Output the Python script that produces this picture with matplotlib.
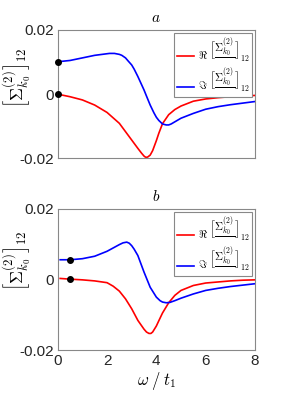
import matplotlib
matplotlib.use("Agg")
import matplotlib.pyplot as plt

plt.rcParams['font.family'] = ['Liberation Sans', 'DejaVu Sans']
plt.rcParams['mathtext.fontset'] = 'cm'

# Panel a
xa_im = [0, 0.5, 1, 1.5, 2, 2.1, 2.3, 2.5, 2.6, 2.75, 2.85, 3, 3.1, 3.25, 3.5, 3.6, 3.75, 3.9, 4, 4.1, 4.25,
         4.4, 4.5, 4.6, 4.8, 5, 5.5, 6, 6.5, 7, 7.5, 8]
ya_im = [0.0101, 0.0105, 0.0113, 0.0121, 0.0126, 0.0127, 0.0127, 0.0124, 0.0121, 0.0113, 0.0104, 0.0091,
         0.0078, 0.0055, 0.0013, -0.0006, -0.0034, -0.0058, -0.0072, -0.0082, -0.0093, -0.0096, -0.0096,
         -0.0093, -0.0084, -0.0075, -0.0060, -0.0047, -0.0039, -0.0033, -0.0028, -0.0023]
xa_re = [0, 0.5, 1, 1.5, 2, 2.5, 2.75, 3, 3.25, 3.4, 3.5, 3.55, 3.6, 3.65, 3.75, 3.85, 4, 4.1, 4.25, 4.5,
         4.75, 5, 5.5, 6, 6.5, 7, 7.5, 8]
ya_re = [0, -0.0008, -0.0018, -0.0034, -0.0057, -0.0091, -0.0117, -0.0143, -0.0169, -0.0184, -0.0193,
         -0.0196, -0.0197, -0.0196, -0.0190, -0.0176, -0.0145, -0.0122, -0.0092, -0.0064, -0.0048, -0.0037,
         -0.0022, -0.0015, -0.0011, -0.0008, -0.0006, -0.0004]
dots_a_x = [0, 0]
dots_a_y = [0.0101, 0.0]

# Panel b
xb_im = [0.1, 0.5, 1, 1.5, 2, 2.5, 2.65, 2.8, 2.9, 3, 3.1, 3.25, 3.5, 3.75, 4, 4.15, 4.25, 4.4, 4.55, 4.75,
         5, 5.5, 6, 6.5, 7, 7.5, 8]
yb_im = [0.0056, 0.0056, 0.0059, 0.0066, 0.0080, 0.0099, 0.0104, 0.0106, 0.0103, 0.0096, 0.0086, 0.0068,
         0.0021, -0.0022, -0.0050, -0.0060, -0.0064, -0.0066, -0.0065, -0.0060, -0.0053, -0.0041, -0.0031,
         -0.0025, -0.0020, -0.0016, -0.0012]
xb_re = [0.1, 0.5, 1, 1.5, 2, 2.25, 2.5, 2.75, 3, 3.25, 3.5, 3.6, 3.7, 3.78, 3.85, 4, 4.1, 4.25, 4.5, 4.75,
         5, 5.5, 6, 6.5, 7, 7.5, 8]
yb_re = [0.0003, 0.0001, -0.0001, -0.0004, -0.0009, -0.0019, -0.0033, -0.0055, -0.0083, -0.0116, -0.0141,
         -0.0149, -0.0153, -0.0153, -0.0149, -0.0132, -0.0117, -0.0095, -0.0066, -0.0045, -0.0031, -0.0017,
         -0.0010, -0.0007, -0.0004, -0.0002, -0.0001]
dots_b_x = [0.5, 0.5]
dots_b_y = [0.0056, 0.0001]

yticks = [-0.02, 0, 0.02]
yticklabels = ['-0.02', '0', '0.02']
xticks = [0, 2, 4, 6, 8]
xticklabels = ['0', '2', '4', '6', '8']

core = r'\dfrac{\Sigma^{(2)}_{k_0}}{\ }'
lab_re_big = r'$\Re\ \left[' + core + r'\right]_{12}$'
lab_im_big = r'$\Im\ \left[' + core + r'\right]_{12}$'
lab_re = r'$\Re\ \left[\Sigma^{(2)}_{k_0}\right]_{12}$'
lab_im = r'$\Im\ \left[\Sigma^{(2)}_{k_0}\right]_{12}$'
ylab = r'$\left[\Sigma^{(2)}_{k_0}\right]_{12}$'

W, H = 283, 394


def build(re_label, im_label):
    fig = plt.figure(figsize=(2.83, 3.94), dpi=100)
    axa = fig.add_axes([57.7 / W, (H - 158.3) / H, 197.3 / W, 128.3 / H])
    axb = fig.add_axes([57.7 / W, (H - 350) / H, 197.3 / W, 141 / H])
    panels = [
        (axa, xa_re, ya_re, xa_im, ya_im, dots_a_x, dots_a_y, 'a', False),
        (axb, xb_re, yb_re, xb_im, yb_im, dots_b_x, dots_b_y, 'b', True),
    ]
    for ax, xr, yr, xi, yi, dx, dy, title, showx in panels:
        ax.plot(xr, yr, color='#ff0000', lw=1.2, label=re_label, zorder=2)
        ax.plot(xi, yi, color='#0000ff', lw=1.2, label=im_label, zorder=2)
        ax.plot(dx, dy, 'o', color='black', ms=4, zorder=3, clip_on=False)
        ax.set_xlim(0, 8)
        ax.set_ylim(-0.02, 0.02)
        ax.set_yticks(yticks)
        ax.set_yticklabels(yticklabels)
        ax.set_xticks(xticks)
        if showx:
            ax.set_xticklabels(xticklabels)
            ax.set_xlabel(r'$\omega\;/\;t_1$', fontsize=12, labelpad=1)
        else:
            ax.set_xticklabels([])
        ax.tick_params(length=0, labelsize=11, pad=3, colors='#262626')
        for s in ax.spines.values():
            s.set_color('#888888')
            s.set_linewidth(0.8)
        ax.set_title(r'$' + title + r'$', fontsize=11, pad=6)
        ax.text(-0.205, 0.63, ylab, transform=ax.transAxes, rotation=90,
                ha='center', va='center', fontsize=13)
        leg = ax.legend(loc='upper right', fontsize=8, handlelength=1.6,
                        handletextpad=0.3, borderpad=0.2, labelspacing=0.1,
                        fancybox=False, framealpha=1, edgecolor='#888888',
                        borderaxespad=0.3)
        leg.get_frame().set_linewidth(0.8)
    return fig


try:
    fig = build(lab_re_big, lab_im_big)
    fig.canvas.draw()
except Exception:
    plt.close('all')
    fig = build(lab_re, lab_im)

fig.savefig('out.png', dpi=100)
